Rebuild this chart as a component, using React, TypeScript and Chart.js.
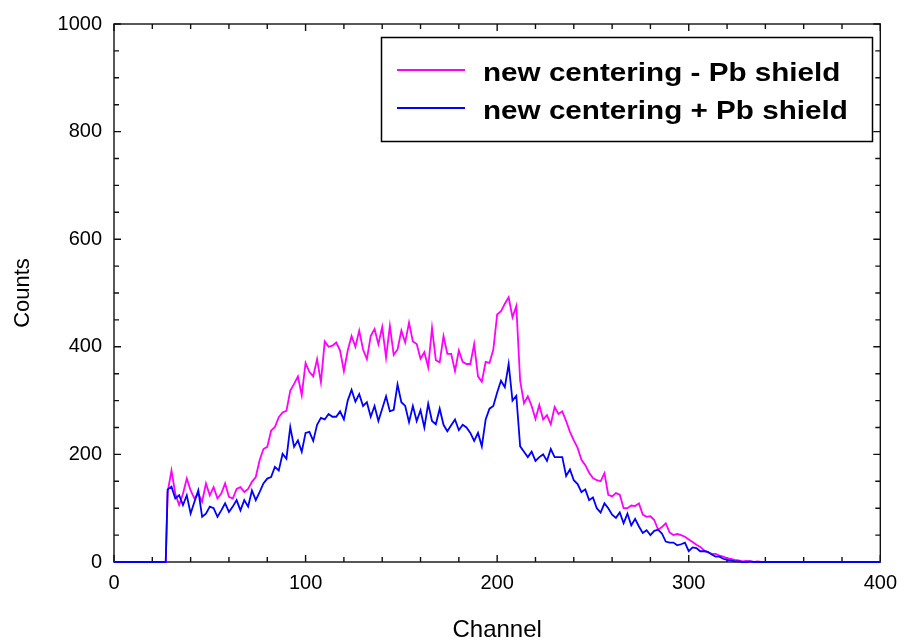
import React, { useEffect, useRef } from 'react';
import { Chart, registerables } from 'chart.js';

Chart.register(...registerables);

const FONT = "'Liberation Sans', Arial, Helvetica, sans-serif";

const SERIES_LABELS = ['new centering - Pb shield', 'new centering + Pb shield'];
const X_TICKS = [0, 100, 200, 300, 400];
const Y_TICKS = [0, 200, 400, 600, 800, 1000];

// channels: 0, 27, then 28..338 every 2 channels, then 400
const FIRST_CH = 28;
const CH_STEP = 2;
const N_POINTS = 156;
const CHANNELS = [0, 27, ...Array.from({ length: N_POINTS }, (_, i) => FIRST_CH + CH_STEP * i), 400];

// new centering - Pb shield (magenta)
const MAGENTA = [
  0, 0,
  130, 170, 127, 106, 127, 155, 133, 118, 127, 112,
  146, 124, 139, 118, 127, 146, 121, 118, 136, 139,
  130, 136, 149, 158, 189, 210, 214, 244, 251, 269,
  278, 281, 318, 331, 345, 310, 370, 353, 345, 377,
  334, 410, 400, 402, 408, 393, 355, 393, 420, 400,
  430, 395, 377, 420, 433, 405, 437, 380, 439, 385,
  395, 430, 408, 445, 410, 405, 378, 390, 362, 435,
  375, 371, 420, 387, 387, 355, 393, 372, 368, 368,
  405, 345, 335, 372, 370, 395, 460, 466, 480, 492,
  455, 476, 337, 295, 308, 290, 266, 292, 265, 273,
  256, 288, 275, 280, 262, 242, 226, 212, 190, 180,
  166, 156, 152, 150, 165, 125, 122, 128, 125, 100,
  100, 105, 104, 109, 88, 84, 85, 78, 60, 65,
  72, 55, 50, 52, 50, 47, 42, 37, 32, 28,
  22, 18, 15, 15, 12, 10, 7, 6, 4, 3,
  1, 2, 1, 0, 1, 0,
  0,
];

// new centering + Pb shield (blue)
const BLUE = [
  0, 0,
  135, 140, 118, 124, 106, 124, 90, 112, 133, 84,
  90, 103, 100, 84, 96, 109, 93, 103, 115, 96,
  115, 103, 133, 115, 130, 146, 155, 158, 177, 170,
  201, 192, 251, 214, 226, 205, 240, 242, 225, 255,
  268, 265, 275, 270, 270, 280, 265, 300, 320, 298,
  312, 290, 297, 270, 290, 262, 285, 308, 280, 283,
  330, 297, 290, 260, 290, 262, 282, 250, 294, 262,
  256, 285, 255, 243, 254, 265, 245, 255, 250, 240,
  225, 240, 215, 265, 285, 290, 315, 337, 325, 368,
  300, 309, 215, 205, 195, 205, 188, 195, 200, 188,
  210, 195, 195, 195, 160, 172, 152, 145, 130, 135,
  115, 120, 100, 92, 109, 100, 88, 82, 92, 72,
  90, 68, 80, 66, 54, 59, 50, 58, 60, 53,
  38, 36, 36, 31, 33, 36, 20, 27, 26, 20,
  20, 19, 14, 10, 10, 6, 4, 3, 1, 1,
  0, 0, 1, 0, 0, 0,
  0,
];

const COLORS = ['#ff00ff', '#0000ff'];

const framePlugin = {
  id: 'frameTicks',
  beforeDatasetsDraw(chart: any) {
    const { ctx, chartArea: a, scales } = chart;
    const xs = scales.x;
    const ys = scales.y;
    ctx.save();
    ctx.strokeStyle = '#111';
    ctx.lineWidth = 1.4;
    ctx.strokeRect(a.left, a.top, a.right - a.left, a.bottom - a.top);
    ctx.beginPath();
    for (let v = xs.min; v <= xs.max; v += 20) {
      const px = xs.getPixelForValue(v);
      const len = v % 100 === 0 ? 7 : 5;
      ctx.moveTo(px, a.bottom);
      ctx.lineTo(px, a.bottom - len);
      ctx.moveTo(px, a.top);
      ctx.lineTo(px, a.top + len);
    }
    for (let v = ys.min; v <= ys.max; v += 50) {
      const py = ys.getPixelForValue(v);
      const len = v % 200 === 0 ? 7 : 5;
      ctx.moveTo(a.left, py);
      ctx.lineTo(a.left + len, py);
      ctx.moveTo(a.right, py);
      ctx.lineTo(a.right - len, py);
    }
    ctx.stroke();
    ctx.restore();
  },
};

const legendPlugin = {
  id: 'boxLegend',
  afterDraw(chart: any) {
    const { ctx } = chart;
    const bx = 381.5, by = 37.5, bw = 491, bh = 104;
    ctx.save();
    ctx.fillStyle = '#fff';
    ctx.fillRect(bx, by, bw, bh);
    ctx.strokeStyle = '#000';
    ctx.lineWidth = 1.5;
    ctx.strokeRect(bx, by, bw, bh);
    const rows = [70, 108];
    SERIES_LABELS.forEach((label, i) => {
      const y = rows[i];
      ctx.strokeStyle = COLORS[i];
      ctx.lineWidth = 2;
      ctx.beginPath();
      ctx.moveTo(397, y);
      ctx.lineTo(465, y);
      ctx.stroke();
      ctx.save();
      ctx.translate(483, y + 11);
      ctx.scale(1.14, 1);
      ctx.fillStyle = '#000';
      ctx.font = `bold 26px ${FONT}`;
      ctx.textBaseline = 'alphabetic';
      ctx.textAlign = 'left';
      ctx.fillText(label, 0, 0);
      ctx.restore();
    });
    ctx.restore();
  },
};

export default function App() {
  const ref = useRef<HTMLCanvasElement | null>(null);

  useEffect(() => {
    if (!ref.current) return;
    const mk = (vals: number[]) => CHANNELS.map((c, i) => ({ x: c, y: vals[i] }));
    const chart = new Chart(ref.current, {
      type: 'line',
      data: {
        datasets: [
          {
            label: SERIES_LABELS[0],
            data: mk(MAGENTA),
            borderColor: COLORS[0],
            borderWidth: 1.8,
            pointRadius: 0,
            tension: 0,
            clip: 6,
            order: 1,
          },
          {
            label: SERIES_LABELS[1],
            data: mk(BLUE),
            borderColor: COLORS[1],
            borderWidth: 1.8,
            pointRadius: 0,
            tension: 0,
            clip: 6,
            order: 0,
          },
        ],
      },
      options: {
        animation: false,
        responsive: false,
        maintainAspectRatio: false,
        layout: { padding: { top: 22, right: 21, left: 0, bottom: 0 } },
        plugins: {
          legend: { display: false },
          tooltip: { enabled: false },
        },
        scales: {
          x: {
            type: 'linear',
            min: 0,
            max: 400,
            afterBuildTicks: (s: any) => {
              s.ticks = X_TICKS.map((v) => ({ value: v }));
            },
            afterFit: (s: any) => {
              s.height = 80;
            },
            grid: { display: false, drawTicks: false },
            border: { display: false },
            ticks: {
              color: '#000',
              padding: 9,
              maxRotation: 0,
              autoSkip: false,
              callback: (v: any) => String(v),
              font: { family: FONT, size: 20 },
            },
            title: {
              display: true,
              text: 'Channel',
              color: '#000',
              font: { family: FONT, size: 24, lineHeight: 1 },
              padding: { top: 0, bottom: 0 },
            },
          },
          y: {
            type: 'linear',
            min: 0,
            max: 1000,
            afterBuildTicks: (s: any) => {
              s.ticks = Y_TICKS.map((v) => ({ value: v }));
            },
            afterFit: (s: any) => {
              s.width = 114;
            },
            grid: { display: false, drawTicks: false },
            border: { display: false },
            ticks: {
              color: '#000',
              padding: 12,
              autoSkip: false,
              callback: (v: any) => String(v),
              font: { family: FONT, size: 20 },
            },
            title: {
              display: true,
              text: 'Counts',
              color: '#000',
              font: { family: FONT, size: 22, lineHeight: 1 },
              padding: { top: 12, bottom: 0 },
            },
          },
        },
      },
      plugins: [framePlugin, legendPlugin],
    } as any);
    return () => chart.destroy();
  }, []);

  return (
    <div style={{ position: 'fixed', left: 0, top: 0, width: 906, height: 642, background: '#fff' }}>
      <canvas ref={ref} width={906} height={642} style={{ display: 'block' }} />
    </div>
  );
}
